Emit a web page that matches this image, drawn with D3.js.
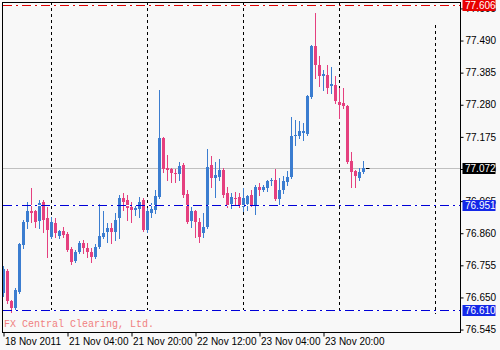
<!DOCTYPE html>
<html>
<head>
<meta charset="utf-8">
<script src="https://cdn.jsdelivr.net/npm/d3@7"></script>
<style>
  body { margin: 0; background: #f8f8f8; }
  svg { display: block; }
  text { font-family: "Liberation Sans", Arial, sans-serif; }
</style>
</head>
<body>
<div id="chart"></div>
<script>
// H1 bars, 18 Nov 2011 12:00 .. 24 Nov 2011 06:00 (index = bar number)
const open = [76.665, 76.737, 76.639, 76.617, 76.669, 76.822, 76.896, 76.933, 76.931, 76.900,
  76.961, 76.909, 76.849, 76.893, 76.851, 76.867, 76.857, 76.809, 76.769, 76.798,
  76.827, 76.813, 76.798, 76.783, 76.816, 76.849, 76.863, 76.878, 76.865, 76.909,
  76.974, 76.969, 76.947, 76.936, 76.938, 76.969, 76.871, 76.925, 76.936, 76.979,
  77.170, 77.072, 77.069, 77.058, 77.053, 77.083, 76.987, 76.900, 76.933, 76.898,
  76.862, 76.881, 77.083, 77.040, 77.045, 77.067, 76.991, 76.956, 76.974, 76.978,
  76.946, 76.956, 76.986, 76.953, 77.011, 77.002, 77.008, 77.030, 77.035, 76.973,
  77.002, 77.028, 77.043, 77.177, 77.179, 77.188, 77.184, 77.305, 77.471, 77.409,
  77.373, 77.376, 77.340, 77.346, 77.288, 77.286, 77.275, 77.095, 77.062, 77.041,
  77.060];
const high = [76.753, 76.743, 76.642, 76.681, 76.828, 76.903, 76.962, 77.007, 76.936, 76.969,
  76.970, 76.947, 76.914, 76.909, 76.871, 76.881, 76.863, 76.816, 76.805, 76.835,
  76.838, 76.827, 76.811, 76.824, 76.955, 76.931, 76.893, 76.893, 76.925, 76.985,
  76.991, 76.985, 76.963, 76.952, 76.979, 76.974, 76.942, 76.958, 77.001, 77.328,
  77.175, 77.116, 77.072, 77.069, 77.094, 77.089, 77.001, 76.947, 76.936, 76.909,
  76.925, 77.134, 77.112, 77.094, 77.102, 77.072, 77.012, 76.991, 76.996, 76.991,
  77.008, 76.986, 77.002, 77.019, 77.024, 77.019, 77.035, 77.039, 77.071, 77.041,
  77.046, 77.063, 77.239, 77.231, 77.228, 77.220, 77.311, 77.474, 77.580, 77.438,
  77.395, 77.411, 77.402, 77.373, 77.335, 77.335, 77.278, 77.126, 77.068, 77.073,
  77.095];
const low = [76.655, 76.632, 76.604, 76.609, 76.665, 76.813, 76.877, 76.898, 76.881, 76.876,
  76.865, 76.783, 76.844, 76.849, 76.844, 76.849, 76.802, 76.759, 76.765, 76.795,
  76.795, 76.783, 76.765, 76.778, 76.811, 76.844, 76.832, 76.827, 76.838, 76.845,
  76.936, 76.903, 76.898, 76.920, 76.914, 76.868, 76.865, 76.914, 76.925, 76.974,
  77.061, 77.034, 77.029, 77.029, 77.034, 76.979, 76.893, 76.881, 76.849, 76.832,
  76.849, 76.876, 77.012, 76.979, 77.034, 76.979, 76.947, 76.942, 76.952, 76.947,
  76.932, 76.937, 76.948, 76.923, 76.986, 76.997, 76.997, 77.019, 76.970, 76.953,
  76.992, 77.019, 77.041, 77.149, 77.171, 77.166, 77.181, 77.302, 77.367, 77.340,
  77.329, 77.318, 77.318, 77.286, 77.237, 77.269, 77.090, 77.010, 77.010, 77.035,
  77.057];
const close = [76.743, 76.639, 76.617, 76.675, 76.824, 76.898, 76.933, 76.925, 76.898, 76.958,
  76.903, 76.871, 76.898, 76.860, 76.867, 76.854, 76.805, 76.765, 76.798, 76.827,
  76.811, 76.798, 76.783, 76.816, 76.852, 76.860, 76.878, 76.863, 76.903, 76.975,
  76.963, 76.942, 76.936, 76.942, 76.963, 76.871, 76.931, 76.938, 76.982, 77.170,
  77.069, 77.067, 77.056, 77.053, 77.080, 76.985, 76.898, 76.933, 76.898, 76.849,
  76.881, 77.078, 77.040, 77.050, 77.067, 76.985, 76.952, 76.978, 76.971, 76.952,
  76.975, 76.981, 76.953, 77.010, 77.002, 77.011, 77.030, 77.035, 76.973, 77.002,
  77.030, 77.043, 77.177, 77.182, 77.193, 77.195, 77.308, 77.471, 77.409, 77.373,
  77.381, 77.335, 77.348, 77.291, 77.280, 77.275, 77.093, 77.060, 77.046, 77.060,
  77.072];

const timeTicks = [0, 16, 32, 48, 64, 80];
const timeLabels = ["18 Nov 2011", "21 Nov 04:00", "21 Nov 20:00", "22 Nov 12:00", "23 Nov 04:00", "23 Nov 20:00"];
const daySeparators = [12, 36, 60, 84, 108];
const priceTicks = [77.595, 77.490, 77.385, 77.280, 77.175, 77.070, 76.965, 76.860, 76.755, 76.650, 76.545];
const levelLines = [77.606, 76.951, 76.610];
const levelColors = ["#e00000", "#0000d8", "#0000d8"];
const levelBoxColors = ["#e80000", "#1428e8", "#1428e8"];
const bid = 77.072;

const W = 500, H = 350;
const plot = {left: 2, top: 2, right: 460, bottom: 332};
const bg = "#f8f8f8";
const bullColor = "#3b7dd0", bearColor = "#e5407f";

const svg = d3.select("#chart").append("svg")
    .attr("width", W).attr("height", H)
    .style("background", bg);

const x = d3.scaleLinear().domain([0, 114]).range([3.5, 459.5]);
const y = d3.scaleLinear().domain([76.537, 77.616]).range([plot.bottom, plot.top]);
const py = v => Math.round(y(v)) + 0.5;

const bars = d3.range(open.length).map(i => ({
    i, o: open[i], h: high[i], l: low[i], c: close[i]
}));

// day separators (behind everything)
svg.append("g").selectAll("line")
    .data(daySeparators)
    .join("line")
    .attr("x1", d => x(d)).attr("x2", d => x(d))
    .attr("y1", (d, i) => i === daySeparators.length - 1 ? 25 : plot.top)
    .attr("y2", 314)
    .attr("stroke", "#000")
    .attr("stroke-dasharray", "3,3");

// bid line
svg.append("line")
    .attr("x1", plot.left).attr("x2", plot.right)
    .attr("y1", py(bid)).attr("y2", py(bid))
    .attr("stroke", "#c0c0c0");

// candles
const candles = svg.append("g").attr("shape-rendering", "crispEdges");
candles.selectAll("line")
    .data(bars)
    .join("line")
    .attr("x1", d => x(d.i)).attr("x2", d => x(d.i))
    .attr("y1", d => Math.round(y(d.h))).attr("y2", d => Math.round(y(d.l)) + 1)
    .attr("stroke", d => d.c >= d.o ? bullColor : bearColor);

candles.selectAll("rect")
    .data(bars)
    .join("rect")
    .attr("x", d => x(d.i) - 1.5)
    .attr("width", 3)
    .attr("y", d => Math.round(y(Math.max(d.o, d.c))))
    .attr("height", d => Math.max(1, Math.round(y(Math.min(d.o, d.c))) - Math.round(y(Math.max(d.o, d.c)))))
    .attr("fill", d => d.c >= d.o ? bullColor : bearColor);

// little bid marker after the last bar
const last = bars.length - 1;
svg.append("line")
    .attr("x1", x(last) + 2.5).attr("x2", x(last) + 6)
    .attr("y1", py(bid)).attr("y2", py(bid))
    .attr("stroke", "#000");

// horizontal levels: dash-dot as filled segments over a white strip
const levels = svg.append("g").attr("shape-rendering", "crispEdges");
const pattern = [9, 4, 2, 4];
const period = d3.sum(pattern);
const segStarts = d3.range(plot.left + 1, plot.right, period);
levelLines.forEach((v, i) => {
    const top = Math.round(y(v));
    levels.append("rect")
        .attr("x", plot.left + 1).attr("y", top)
        .attr("width", plot.right - plot.left - 1).attr("height", 1)
        .attr("fill", "#ffffff");
    segStarts.forEach(s => {
        [[0, pattern[0]], [pattern[0] + pattern[1], pattern[2]]].forEach(([off, len]) => {
            const x0 = s + off;
            if (x0 >= plot.right) return;
            levels.append("rect")
                .attr("x", x0).attr("y", top)
                .attr("width", Math.min(len, plot.right - x0)).attr("height", 1)
                .attr("fill", levelColors[i]);
        });
    });
});

// broker note
svg.append("text")
    .attr("x", 4).attr("y", 327)
    .style("font-family", "'Liberation Mono', 'DejaVu Sans Mono', monospace")
    .style("font-size", "10px")
    .attr("fill", "#f08080")
    .text("FX Central Clearing, Ltd.");

// frame
svg.append("rect")
    .attr("x", plot.left + 0.5).attr("y", plot.top + 0.5)
    .attr("width", plot.right - plot.left).attr("height", plot.bottom - plot.top)
    .attr("fill", "none").attr("stroke", "#000");

// price axis
const yAxis = svg.append("g")
    .attr("transform", `translate(${plot.right + 0.5},0)`)
    .call(d3.axisRight(y).tickValues(priceTicks).tickSize(3).tickPadding(2)
        .tickFormat(d3.format(".3f")));
yAxis.select(".domain").remove();
yAxis.selectAll("text").style("font-size", "10px").attr("fill", "#000");
yAxis.selectAll("line").attr("stroke", "#000");

// time axis
const xAxis = svg.append("g")
    .attr("transform", `translate(0,${plot.bottom + 0.5})`)
    .call(d3.axisBottom(x).tickValues(timeTicks).tickSize(4).tickPadding(1)
        .tickFormat((d, i) => timeLabels[i]));
xAxis.select(".domain").remove();
xAxis.selectAll("text")
    .attr("text-anchor", "start").attr("x", 1)
    .style("font-size", "10px").attr("fill", "#000");
xAxis.selectAll("line").attr("stroke", "#000");

// price boxes on the axis
const boxes = levelLines.map((v, i) => ({v, color: levelBoxColors[i]}))
    .concat([{v: bid, color: "#000"}]);
const boxG = svg.append("g").selectAll("g")
    .data(boxes)
    .join("g")
    .attr("transform", d => `translate(${plot.right + 2.5},${Math.round(y(d.v))})`);
boxG.append("rect")
    .attr("x", 0).attr("y", -5)
    .attr("width", 33).attr("height", 11)
    .attr("fill", d => d.color);
boxG.append("text")
    .attr("x", 2.5).attr("y", 0).attr("dy", "0.36em")
    .style("font-size", "10px")
    .attr("fill", "#fff")
    .text(d => d3.format(".3f")(d.v));
</script>
</body>
</html>
